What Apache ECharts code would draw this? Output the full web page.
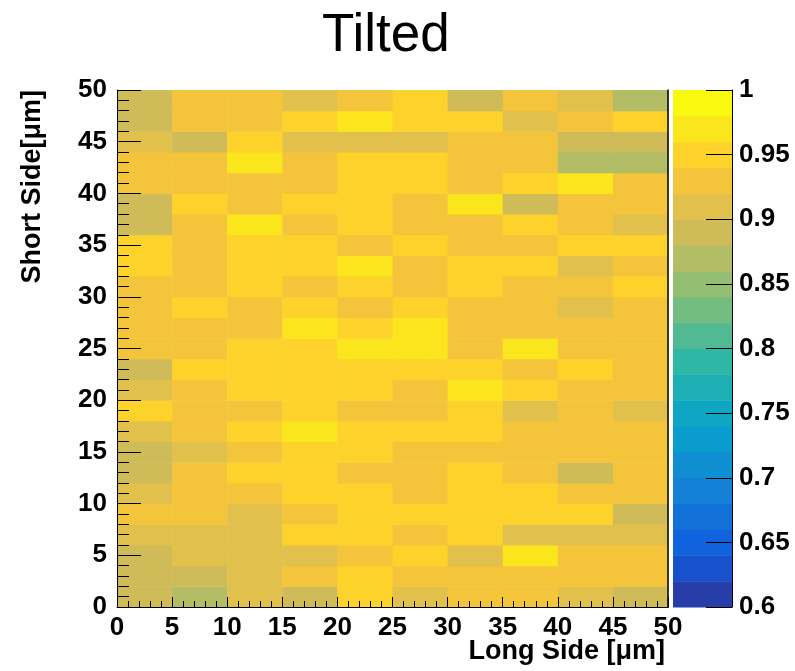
<!DOCTYPE html>
<html>
<head>
<meta charset="utf-8">
<title>Tilted</title>
<script src="https://cdn.jsdelivr.net/npm/echarts@6/dist/echarts.min.js"></script>
<style>
  html, body { margin: 0; padding: 0; background: #fff; }
  #chart { width: 795px; height: 671px; }
</style>
</head>
<body>
<div id="chart"></div>
<script>
// Bin edges along each side (µm)
const longSideEdges = [0, 5, 10, 15, 20, 25, 30, 35, 40, 45, 50];
const shortSideEdges = [0, 2, 4, 6, 8, 10, 12, 14, 16, 18, 20, 22, 24, 26, 28, 30,
                        32, 34, 36, 38, 40, 42, 44, 46, 48, 50];

// Efficiency per bin, one row per short-side bin, from 0 µm upwards
const efficiencyRows = [
  [0.89, 0.87, 0.91, 0.89, 0.95, 0.91, 0.93, 0.93, 0.91, 0.89],
  [0.89, 0.89, 0.91, 0.93, 0.95, 0.93, 0.93, 0.93, 0.93, 0.93],
  [0.89, 0.91, 0.91, 0.91, 0.93, 0.95, 0.91, 0.97, 0.93, 0.93],
  [0.91, 0.91, 0.91, 0.95, 0.95, 0.93, 0.95, 0.91, 0.91, 0.91],
  [0.93, 0.93, 0.91, 0.93, 0.95, 0.95, 0.95, 0.95, 0.95, 0.89],
  [0.91, 0.93, 0.93, 0.95, 0.95, 0.93, 0.95, 0.95, 0.93, 0.93],
  [0.89, 0.93, 0.95, 0.95, 0.93, 0.93, 0.95, 0.93, 0.89, 0.93],
  [0.89, 0.91, 0.93, 0.95, 0.95, 0.93, 0.93, 0.93, 0.93, 0.93],
  [0.91, 0.93, 0.95, 0.97, 0.95, 0.95, 0.95, 0.93, 0.93, 0.93],
  [0.95, 0.93, 0.93, 0.95, 0.93, 0.93, 0.95, 0.91, 0.93, 0.91],
  [0.91, 0.93, 0.95, 0.95, 0.95, 0.93, 0.97, 0.95, 0.93, 0.93],
  [0.89, 0.95, 0.95, 0.95, 0.95, 0.95, 0.95, 0.93, 0.95, 0.93],
  [0.93, 0.93, 0.95, 0.95, 0.97, 0.97, 0.93, 0.97, 0.93, 0.93],
  [0.93, 0.93, 0.93, 0.97, 0.95, 0.97, 0.93, 0.93, 0.93, 0.93],
  [0.93, 0.95, 0.93, 0.95, 0.93, 0.95, 0.93, 0.93, 0.91, 0.93],
  [0.93, 0.93, 0.95, 0.93, 0.95, 0.93, 0.95, 0.93, 0.93, 0.95],
  [0.95, 0.93, 0.95, 0.95, 0.97, 0.93, 0.95, 0.95, 0.91, 0.93],
  [0.95, 0.93, 0.95, 0.95, 0.93, 0.95, 0.93, 0.93, 0.95, 0.95],
  [0.89, 0.93, 0.97, 0.93, 0.95, 0.93, 0.93, 0.95, 0.93, 0.91],
  [0.89, 0.95, 0.93, 0.95, 0.95, 0.93, 0.97, 0.89, 0.93, 0.93],
  [0.93, 0.93, 0.93, 0.93, 0.95, 0.95, 0.93, 0.95, 0.97, 0.93],
  [0.93, 0.93, 0.97, 0.93, 0.95, 0.95, 0.93, 0.93, 0.87, 0.87],
  [0.91, 0.89, 0.95, 0.91, 0.91, 0.91, 0.93, 0.93, 0.89, 0.89],
  [0.89, 0.93, 0.93, 0.95, 0.97, 0.95, 0.95, 0.91, 0.93, 0.95],
  [0.89, 0.93, 0.93, 0.91, 0.93, 0.95, 0.89, 0.93, 0.91, 0.87]
];

// Colour contour boundaries and palette axis ticks
const contourLevels = [0.60, 0.62, 0.64, 0.66, 0.68, 0.70, 0.72, 0.74, 0.76, 0.78,
                       0.80, 0.82, 0.84, 0.86, 0.88, 0.90, 0.92, 0.94, 0.96, 0.98, 1.00];

// "Bird" colour gradient
const birdStops = [0.0, 0.125, 0.25, 0.375, 0.5, 0.625, 0.75, 0.875, 1.0];
const birdR = [0.2082, 0.0592, 0.0780, 0.0232, 0.1802, 0.5301, 0.8186, 0.9956, 0.9764];
const birdG = [0.1664, 0.3599, 0.5041, 0.6419, 0.7178, 0.7492, 0.7328, 0.7862, 0.9832];
const birdB = [0.5293, 0.8684, 0.8385, 0.7914, 0.6425, 0.4662, 0.3499, 0.1968, 0.0539];

function birdColor(f) {
  let i = 0;
  while (i < birdStops.length - 2 && f > birdStops[i + 1]) i++;
  const t = (f - birdStops[i]) / (birdStops[i + 1] - birdStops[i]);
  const ch = arr => Math.round(255 * (arr[i] + (arr[i + 1] - arr[i]) * t));
  return 'rgb(' + ch(birdR) + ',' + ch(birdG) + ',' + ch(birdB) + ')';
}

const nContours = contourLevels.length - 1;
const nPalette = 255;
const pieces = [];
for (let k = 0; k < nContours; k++) {
  const idx = Math.floor((k + 0.99) * nPalette / nContours);
  const piece = { gte: contourLevels[k], color: birdColor(idx / nPalette) };
  if (k === nContours - 1) piece.lte = contourLevels[k + 1];
  else piece.lt = contourLevels[k + 1];
  pieces.push(piece);
}

// Cell records: [x0, x1, y0, y1, value]
const cellData = [];
efficiencyRows.forEach((row, j) => {
  row.forEach((v, i) => {
    cellData.push([longSideEdges[i], longSideEdges[i + 1], shortSideEdges[j], shortSideEdges[j + 1], v]);
  });
});

// Palette bands: [x0, x1, y0, y1, value at band centre]
const paletteData = [];
for (let k = 0; k < nContours; k++) {
  paletteData.push([0, 1, contourLevels[k], contourLevels[k + 1],
                    (contourLevels[k] + contourLevels[k + 1]) / 2]);
}

function renderBox(params, api) {
  const p0 = api.coord([api.value(0), api.value(2)]);
  const p1 = api.coord([api.value(1), api.value(3)]);
  return {
    type: 'rect',
    shape: {
      x: p0[0],
      y: p1[1],
      width: p1[0] - p0[0] + 0.5,
      height: p0[1] - p1[1] + 0.5
    },
    style: { fill: api.visual('color') }
  };
}

const FONT = '"Liberation Sans", Arial, Helvetica, sans-serif';
const tickLabel = { color: '#000', fontFamily: FONT, fontWeight: 'bold', fontSize: 26 };

const chart = echarts.init(document.getElementById('chart'), null, { renderer: 'canvas' });

chart.setOption({
  backgroundColor: '#fff',
  animation: false,
  title: {
    text: 'Tilted',
    left: 317,
    top: 5,
    textStyle: { fontFamily: FONT, fontWeight: 'normal', fontSize: 53, color: '#000' }
  },
  grid: [
    { left: 117, top: 90, width: 551, height: 517, containLabel: false },
    { left: 673, top: 90, width: 59, height: 517, containLabel: false }
  ],
  xAxis: [
    {
      gridIndex: 0, type: 'value', min: 0, max: 50, interval: 5, position: 'bottom', z: 5,
      axisLine: { show: true, onZero: false, lineStyle: { color: '#000', width: 1 } },
      axisTick: { show: true, inside: true, length: 10, lineStyle: { color: '#000' } },
      minorTick: { show: true, splitNumber: 5, length: 6, lineStyle: { color: '#000' } },
      axisLabel: Object.assign({ margin: 8 }, tickLabel),
      splitLine: { show: false }
    },
    {
      gridIndex: 1, type: 'value', min: 0, max: 1, show: false,
      axisLine: { onZero: false }
    }
  ],
  yAxis: [
    {
      gridIndex: 0, type: 'value', min: 0, max: 50, interval: 5, position: 'left', z: 5,
      axisLine: { show: true, onZero: false, lineStyle: { color: '#000', width: 1 } },
      axisTick: { show: true, inside: true, length: 24, lineStyle: { color: '#000' } },
      minorTick: { show: true, splitNumber: 5, length: 12, lineStyle: { color: '#000' } },
      axisLabel: Object.assign({ margin: 10 }, tickLabel),
      splitLine: { show: false }
    },
    {
      gridIndex: 0, type: 'value', min: 0, max: 50, position: 'right', z: 5,
      axisLine: { show: true, onZero: false, lineStyle: { color: '#000', width: 1.5 } },
      axisTick: { show: false }, axisLabel: { show: false }, splitLine: { show: false }
    },
    {
      gridIndex: 1, type: 'value', min: 0.6, max: 1, interval: 0.05, position: 'right', z: 5,
      axisLine: { show: true, onZero: false, lineStyle: { color: '#000', width: 1 } },
      axisTick: { show: true, inside: true, length: 26, lineStyle: { color: '#000' } },
      axisLabel: Object.assign({ margin: 7 }, tickLabel),
      splitLine: { show: false }
    }
  ],
  visualMap: {
    type: 'piecewise',
    show: false,
    dimension: 4,
    seriesIndex: [0, 1],
    pieces: pieces
  },
  series: [
    {
      name: 'efficiency',
      type: 'custom',
      xAxisIndex: 0,
      yAxisIndex: 0,
      z: 1,
      renderItem: renderBox,
      encode: { x: [0, 1], y: [2, 3] },
      data: cellData
    },
    {
      name: 'palette',
      type: 'custom',
      xAxisIndex: 1,
      yAxisIndex: 2,
      z: 1,
      renderItem: renderBox,
      encode: { x: [0, 1], y: [2, 3] },
      data: paletteData
    }
  ],
  graphic: [
    {
      type: 'text',
      x: 665, y: 652,
      style: {
        text: 'Long Side [μm]',
        fontFamily: FONT, fontWeight: 'bold', fontSize: 27, fill: '#000',
        align: 'right', verticalAlign: 'middle'
      }
    },
    {
      type: 'text',
      x: 33, y: 90,
      rotation: Math.PI / 2,
      style: {
        text: 'Short Side[μm]',
        fontFamily: FONT, fontWeight: 'bold', fontSize: 27, fill: '#000',
        align: 'right', verticalAlign: 'middle'
      }
    }
  ]
});
</script>
</body>
</html>
